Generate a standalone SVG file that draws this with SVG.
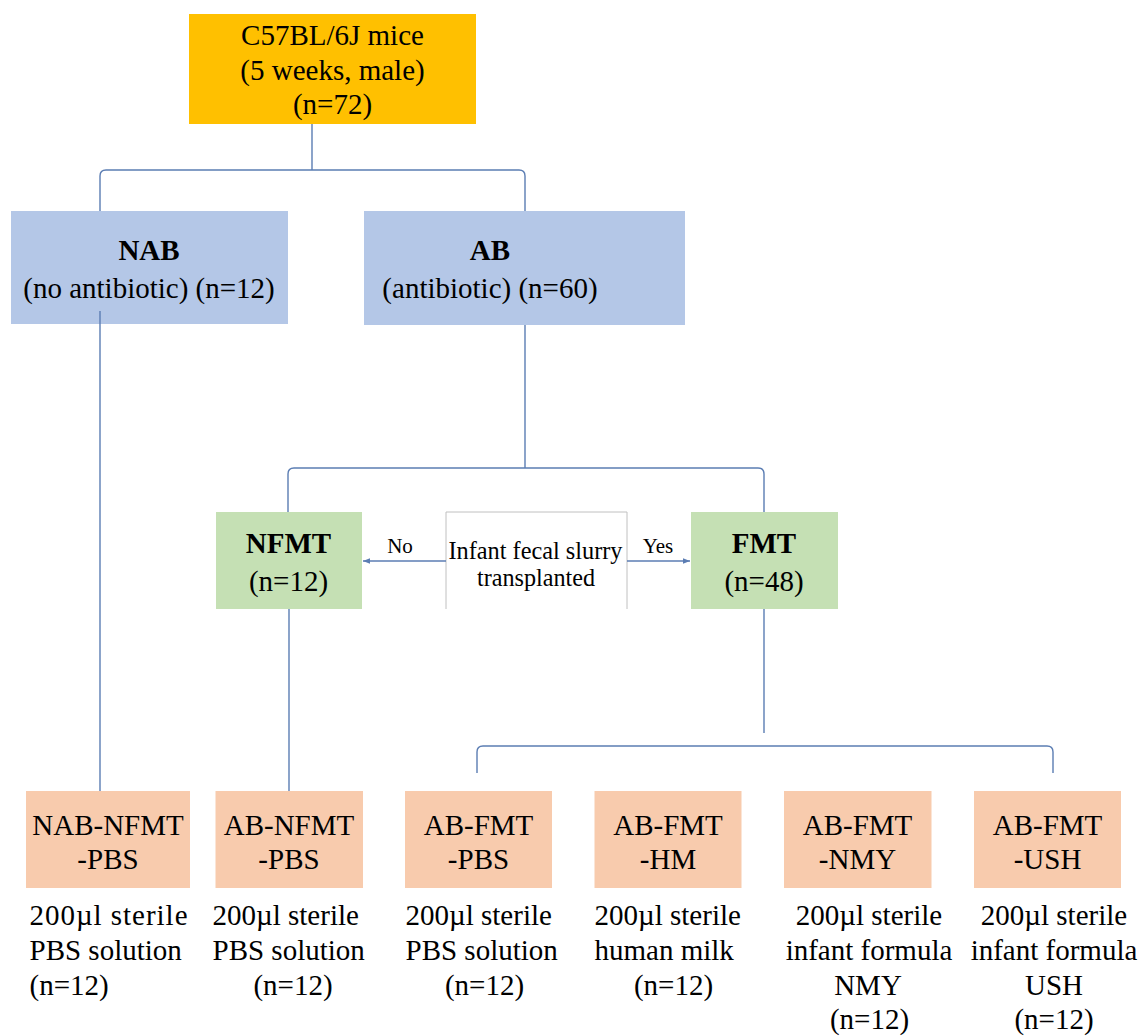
<svg xmlns="http://www.w3.org/2000/svg" width="1143" height="1036" viewBox="0 0 1143 1036">
<defs>
<marker id="ah" viewBox="0 0 10 10" refX="10" refY="5" markerWidth="5" markerHeight="5" orient="auto">
<path d="M0,1 L10,5 L0,9 z" fill="#5B7DB3"/>
</marker>
</defs>
<rect width="1143" height="1036" fill="#fff"/>

<g id="n-mice">
<rect fill="#FFC000" x="189" y="14" width="287" height="110"/>
<text font-family="Liberation Serif" font-size="29" text-anchor="middle" x="332.5" y="45">C57BL/6J mice</text>
<text font-family="Liberation Serif" font-size="29" text-anchor="middle" x="332.5" y="80">(5 weeks, male)</text>
<text font-family="Liberation Serif" font-size="29" text-anchor="middle" x="332.5" y="114">(n=72)</text>
</g>

<g id="n-nab">
<rect fill="#B4C7E7" x="11" y="211" width="277" height="113"/>
<text font-family="Liberation Serif" font-size="29" text-anchor="middle" x="149" y="260" font-weight="bold">NAB</text>
<text font-family="Liberation Serif" font-size="29" text-anchor="middle" x="149" y="298">(no antibiotic) (n=12)</text>
</g>

<g id="n-ab">
<rect fill="#B4C7E7" x="364" y="211" width="321" height="114"/>
<text font-family="Liberation Serif" font-size="29" text-anchor="middle" x="490" y="260" font-weight="bold">AB</text>
<text font-family="Liberation Serif" font-size="29" text-anchor="middle" x="490" y="298">(antibiotic) (n=60)</text>
</g>

<g id="n-nfmt">
<rect fill="#C5E0B4" x="216" y="512" width="146" height="97"/>
<text font-family="Liberation Serif" font-size="29" text-anchor="middle" x="288.5" y="553" font-weight="bold">NFMT</text>
<text font-family="Liberation Serif" font-size="29" text-anchor="middle" x="288.5" y="591">(n=12)</text>
</g>

<g id="n-transplant">
<rect x="446" y="512" width="181" height="97" fill="#fff"/>
<path d="M446,609 L446,512 L627,512 L627,609" fill="none" stroke="#C0C0C0" stroke-width="1"/>
<text font-family="Liberation Serif" font-size="25" text-anchor="middle" x="535.5" y="559" textLength="174" lengthAdjust="spacingAndGlyphs">Infant fecal slurry</text>
<text font-family="Liberation Serif" font-size="25" text-anchor="middle" x="536" y="586" textLength="118" lengthAdjust="spacingAndGlyphs">transplanted</text>
</g>

<g id="n-fmt">
<rect fill="#C5E0B4" x="691" y="512" width="147" height="97"/>
<text font-family="Liberation Serif" font-size="29" text-anchor="middle" x="764" y="553" font-weight="bold">FMT</text>
<text font-family="Liberation Serif" font-size="29" text-anchor="middle" x="764" y="591">(n=48)</text>
</g>

<g id="n-nab-nfmt-pbs">
<rect fill="#F8CBAD" x="26" y="791" width="164" height="97"/>
<text font-family="Liberation Serif" font-size="29" text-anchor="middle" x="108" y="835">NAB-NFMT</text>
<text font-family="Liberation Serif" font-size="29" text-anchor="middle" x="108" y="869">-PBS</text>
<text font-family="Liberation Serif" font-size="29" x="29.5" y="925" textLength="158" lengthAdjust="spacing">200µl   sterile</text>
<text font-family="Liberation Serif" font-size="29" x="29.5" y="960">PBS solution</text>
<text font-family="Liberation Serif" font-size="29" x="29.5" y="995">(n=12)</text>
</g>

<g id="n-ab-nfmt-pbs">
<rect fill="#F8CBAD" x="215.5" y="791" width="147.5" height="97"/>
<text font-family="Liberation Serif" font-size="29" text-anchor="middle" x="289" y="835">AB-NFMT</text>
<text font-family="Liberation Serif" font-size="29" text-anchor="middle" x="289" y="869">-PBS</text>
<text font-family="Liberation Serif" font-size="29" x="212.5" y="925">200µl sterile</text>
<text font-family="Liberation Serif" font-size="29" x="212.5" y="960">PBS solution</text>
<text font-family="Liberation Serif" font-size="29" text-anchor="middle" x="293" y="995">(n=12)</text>
</g>

<g id="n-ab-fmt-pbs">
<rect fill="#F8CBAD" x="405" y="791" width="147" height="97"/>
<text font-family="Liberation Serif" font-size="29" text-anchor="middle" x="478.5" y="835">AB-FMT</text>
<text font-family="Liberation Serif" font-size="29" text-anchor="middle" x="478.5" y="869">-PBS</text>
<text font-family="Liberation Serif" font-size="29" x="405.5" y="925">200µl sterile</text>
<text font-family="Liberation Serif" font-size="29" x="405.5" y="960">PBS solution</text>
<text font-family="Liberation Serif" font-size="29" text-anchor="middle" x="484.5" y="995">(n=12)</text>
</g>

<g id="n-ab-fmt-hm">
<rect fill="#F8CBAD" x="594.5" y="791" width="147" height="97"/>
<text font-family="Liberation Serif" font-size="29" text-anchor="middle" x="668" y="835">AB-FMT</text>
<text font-family="Liberation Serif" font-size="29" text-anchor="middle" x="668" y="869">-HM</text>
<text font-family="Liberation Serif" font-size="29" x="594.5" y="925">200µl sterile</text>
<text font-family="Liberation Serif" font-size="29" x="594.5" y="960">human milk</text>
<text font-family="Liberation Serif" font-size="29" text-anchor="middle" x="673.5" y="995">(n=12)</text>
</g>

<g id="n-ab-fmt-nmy">
<rect fill="#F8CBAD" x="784" y="791" width="147.5" height="97"/>
<text font-family="Liberation Serif" font-size="29" text-anchor="middle" x="857.5" y="835">AB-FMT</text>
<text font-family="Liberation Serif" font-size="29" text-anchor="middle" x="857.5" y="869">-NMY</text>
<text font-family="Liberation Serif" font-size="29" text-anchor="middle" x="869" y="925">200µl sterile</text>
<text font-family="Liberation Serif" font-size="29" text-anchor="middle" x="869" y="960">infant formula</text>
<text font-family="Liberation Serif" font-size="29" text-anchor="middle" x="868" y="995">NMY</text>
<text font-family="Liberation Serif" font-size="29" text-anchor="middle" x="869.5" y="1029">(n=12)</text>
</g>

<g id="n-ab-fmt-ush">
<rect fill="#F8CBAD" x="974" y="791" width="147" height="97"/>
<text font-family="Liberation Serif" font-size="29" text-anchor="middle" x="1047.5" y="835">AB-FMT</text>
<text font-family="Liberation Serif" font-size="29" text-anchor="middle" x="1047.5" y="869">-USH</text>
<text font-family="Liberation Serif" font-size="29" text-anchor="middle" x="1054" y="925">200µl sterile</text>
<text font-family="Liberation Serif" font-size="29" text-anchor="middle" x="1054" y="960">infant formula</text>
<text font-family="Liberation Serif" font-size="29" text-anchor="middle" x="1054" y="995">USH</text>
<text font-family="Liberation Serif" font-size="29" text-anchor="middle" x="1054" y="1029">(n=12)</text>
</g>

<g id="connectors" fill="none" stroke="#5B7DB3" stroke-width="1.4">
<path d="M312,124 L312,170"/>
<path d="M100,211 L100,176 Q100,170 106,170 L519,170 Q525,170 525,176 L525,211"/>
<path d="M100,311 L100,791"/>
<path d="M525,325 L525,468"/>
<path d="M288,512 L288,474 Q288,468 294,468 L758,468 Q764,468 764,474 L764,512"/>
<path d="M446,561 L363,561" marker-end="url(#ah)"/>
<path d="M627,561 L690,561" marker-end="url(#ah)"/>
<path d="M289,609 L289,791"/>
<path d="M764,609 L764,733"/>
<path d="M477,773 L477,752 Q477,746 483,746 L1047,746 Q1053,746 1053,752 L1053,773"/>
<text font-family="Liberation Serif" font-size="21" text-anchor="middle" x="400" y="553" fill="#000" stroke="none">No</text>
<text font-family="Liberation Serif" font-size="21" text-anchor="middle" x="658" y="553" fill="#000" stroke="none">Yes</text>
</g>
</svg>
